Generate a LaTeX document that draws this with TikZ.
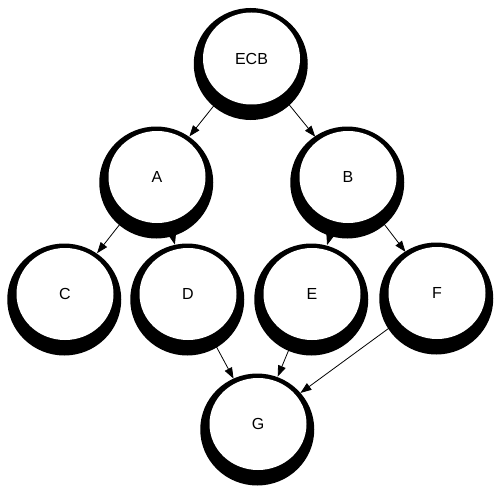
\documentclass[tikz,border=0pt]{standalone}
\usepackage{fontspec}
\setmainfont{Liberation Sans}
\usetikzlibrary{shapes.geometric,arrows.meta}
\tikzset{
  ring/.style={fill=black},
  ball/.style={ellipse, fill=white, draw=none, minimum width=97pt, minimum height=92pt,
    inner sep=0pt, outer sep=5pt, font=\fontsize{16}{18}\selectfont},
  link/.style={draw=black, line width=0.8pt, -{Triangle[length=11pt,width=8pt]}}
}
\begin{document}
\begin{tikzpicture}[x=1pt,y=-1pt]
\useasboundingbox[fill=white] (0,0) rectangle (501,495);
% dark offset rings behind each node
\foreach \x/\y in {251.5/58.5, 157/177, 348/177, 65/294, 188/294, 312/294, 437/293, 258/424}
  \fill[ring] (\x-0.75,\y+5.5) ellipse [x radius=57, y radius=56];
% nodes
\node[ball] (ECB) at (251.5,58.5) {ECB};
\node[ball] (A) at (157,177) {A};
\node[ball] (B) at (348,177) {B};
\node[ball] (C) at (65,294) {C};
\node[ball] (D) at (188,294) {D};
\node[ball] (E) at (312,294) {E};
\node[ball] (F) at (437,293) {F};
\node[ball] (G) at (258,424) {G};
% connectors
\draw[link] (ECB) -- (A);
\draw[link] (ECB) -- (B);
\draw[link] (A) -- (C);
\draw[link] (A) -- (D);
\draw[link] (B) -- (E);
\draw[link] (B) -- (F);
\draw[link] (D) -- (G);
\draw[link] (E) -- (G);
\draw[link] (F) -- (G);
\end{tikzpicture}
\end{document}
